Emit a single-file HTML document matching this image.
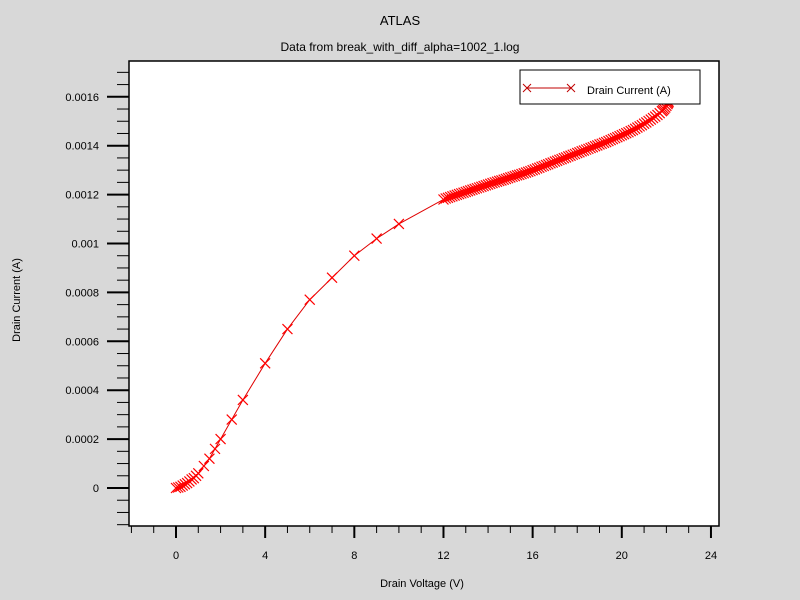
<!DOCTYPE html>
<html><head><meta charset="utf-8"><style>
body{margin:0;background:#d8d8d8;}
svg{display:block;font-family:"Liberation Sans",Arial,sans-serif;}
</style></head><body>
<svg id="chart" width="800" height="600" xmlns="http://www.w3.org/2000/svg">
<rect x="0" y="0" width="800" height="600" fill="#d8d8d8"/>
<text x="400" y="25" font-size="13" text-anchor="middle">ATLAS</text>
<text x="400" y="51" font-size="12" text-anchor="middle">Data from break_with_diff_alpha=1002_1.log</text>
<rect x="129" y="61" width="590" height="465" fill="#fff" stroke="#000" stroke-width="1.5"/>
<g id="axes"></g>
<g id="series"></g>
<text x="422" y="587" font-size="11" text-anchor="middle">Drain Voltage (V)</text>
<text x="20" y="300" font-size="11" text-anchor="middle" transform="rotate(-90 20 300)">Drain Current (A)</text>
<g>
<rect x="520" y="70" width="180" height="34" fill="#fff" stroke="#000" stroke-width="1"/>
<line x1="527" y1="88" x2="571" y2="88" stroke="#c00000" stroke-width="1"/>
<path d="M523,84 L531,92 M523,92 L531,84 M567,84 L575,92 M567,92 L575,84" stroke="#c00000" stroke-width="1"/>
<text x="587" y="94" font-size="11">Drain Current (A)</text>
</g>
</svg>
<script>
const xs = [0,0.1,0.2,0.3,0.4,0.5,0.6,0.7,0.8,0.9,1.0,1.25,1.5,1.75,2,2.5,3,4,5,6,7,8,9,10,
12.0,12.1,12.2,12.3,12.4,12.5,12.6,12.7,12.8,12.9,13.0,13.1,13.2,13.3,13.4,13.5,13.6,13.7,13.8,13.9,
14.0,14.1,14.2,14.3,14.4,14.5,14.6,14.7,14.8,14.9,15.0,15.1,15.2,15.3,15.4,15.5,15.6,15.7,15.8,15.9,
16.0,16.1,16.2,16.3,16.4,16.5,16.6,16.7,16.8,16.9,17.0,17.1,17.2,17.3,17.4,17.5,17.6,17.7,17.8,17.9,
18.0,18.1,18.2,18.3,18.4,18.5,18.6,18.7,18.8,18.9,19.0,19.1,19.2,19.3,19.4,19.5,19.6,19.7,19.8,19.9,
20.0,20.1,20.2,20.3,20.4,20.5,20.6,20.7,20.8,20.9,21.0,21.1,21.2,21.3,21.4,21.5,21.6,21.7,21.8,21.85,
21.9,21.95,22.0,22.05,22.08,22.1];
const ys = [0,0.000002,0.000005,0.00001,0.000015,0.00002,0.000027,0.000035,0.00004,0.00005,0.00006,0.00009,0.00012,0.00016,0.0002,0.00028,0.00036,0.00051,0.00065,0.00077,0.00086,0.00095,0.00102,0.00108,
0.001180,0.001184,0.001187,0.001190,0.001193,0.001196,0.001199,0.001202,0.001205,0.001208,0.001211,0.001214,0.001217,0.001220,0.001223,0.001226,0.001229,0.001232,0.001235,0.001238,
0.001241,0.001244,0.001247,0.001250,0.001253,0.001256,0.001258,0.001261,0.001264,0.001267,0.001270,0.001273,0.001276,0.001279,0.001281,0.001284,0.001287,0.001290,0.001293,0.001296,
0.001300,0.001303,0.001307,0.001310,0.001314,0.001317,0.001321,0.001324,0.001328,0.001331,0.001335,0.001338,0.001342,0.001345,0.001349,0.001352,0.001356,0.001359,0.001363,0.001366,
0.001370,0.001373,0.001377,0.001380,0.001384,0.001387,0.001391,0.001394,0.001398,0.001401,0.001405,0.001408,0.001412,0.001415,0.001419,0.001423,0.001427,0.001431,0.001435,0.001439,
0.001443,0.001447,0.001451,0.001455,0.001460,0.001464,0.001469,0.001474,0.001479,0.001484,0.001490,0.001495,0.001501,0.001507,0.001513,0.001519,0.001526,0.001533,0.001541,0.001545,
0.001550,0.001556,0.001563,0.001570,0.001575,0.001580];
const xTickLabels = ["0","4","8","12","16","20","24"];
const xTickValues = [0,4,8,12,16,20,24];
const yTickLabels = ["0","0.0002","0.0004","0.0006","0.0008","0.001","0.0012","0.0014","0.0016"];
const yTickValues = [0,0.0002,0.0004,0.0006,0.0008,0.001,0.0012,0.0014,0.0016];

const NS="http://www.w3.org/2000/svg";
function sx(v){return 176+v*22.29;}
function sy(v){return 488-v*244500;}
function mk(tag,attrs,parent){const e=document.createElementNS(NS,tag);for(const k in attrs)e.setAttribute(k,attrs[k]);parent.appendChild(e);return e;}
const axes=document.getElementById('axes');
for(let v=-2;v<=24;v++){
  const major=v%4===0;
  const t=mk('line',{x1:sx(v),x2:sx(v),y1:526,y2:major?538:533,stroke:'#000','stroke-width':major?2:1},axes);
  
  
}
xTickValues.forEach((v,i)=>{
  const t=mk('text',{x:sx(v),y:559,'font-size':11,'text-anchor':'middle'},axes);
  t.textContent=xTickLabels[i];
  
  
});
for(let k=-3;k<=35;k++){
  const v=k*0.00005, y=sy(v);
  if(y<61||y>526)continue;
  const major=k%4===0;
  const t=mk('line',{x1:major?107:117,x2:129,y1:y,y2:y,stroke:'#000','stroke-width':major?2:1},axes);
  
  
}
yTickValues.forEach((v,i)=>{
  const t=mk('text',{x:99,y:sy(v)+4,'font-size':11,'text-anchor':'end'},axes);
  t.textContent=yTickLabels[i];
  
  
});
const series=document.getElementById('series');
const line=mk('polyline',{points:xs.map((x,i)=>sx(x)+','+sy(ys[i])).join(' '),fill:'none',stroke:'#e00000','stroke-width':1},series);


xs.forEach((x,i)=>{
  const px=sx(x),py=sy(ys[i]),r=5;
  const m=mk('path',{d:`M${px-r},${py-r}L${px+r},${py+r}M${px-r},${py+r}L${px+r},${py-r}`,stroke:'#ff0000','stroke-width':1.2},series);
  
  
});
</script>
</body></html>
